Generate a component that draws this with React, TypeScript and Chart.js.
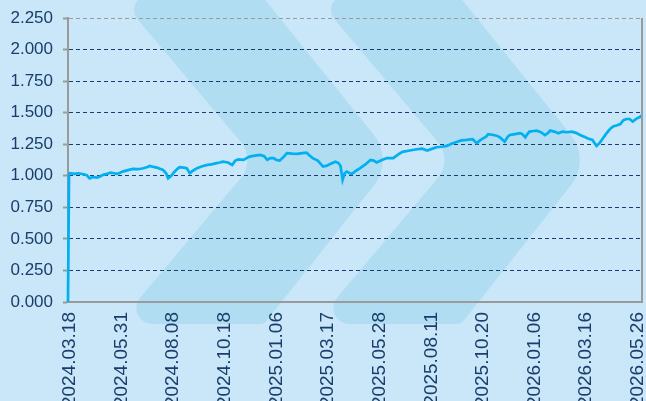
import { useEffect, useRef } from "react";
import { Chart, registerables } from "chart.js";

Chart.register(...registerables);

// X tick labels (dates) and the trading-day index where each one sits
const tickLabels = [
  "2024.03.18", "2024.05.31", "2024.08.08", "2024.10.18", "2025.01.06", "2025.03.17",
  "2025.05.28", "2025.08.11", "2025.10.20", "2026.01.06", "2026.03.16", "2026.05.26",
];
const tickDays = [0, 50, 100, 150, 200, 250, 300, 350, 400, 450, 500, 550];
const lastDay = 556;

// Y axis range
const yMin = 0;
const yMax = 2.25;
const yStep = 0.25;

// Series: trading-day index and net value
const dayIndex = [
  0, 1, 2, 6, 10, 15, 18, 21, 24, 28, 31, 34, 38, 41, 45, 47, 50, 53, 58, 63,
  68, 73, 77, 79, 83, 86, 89, 92, 95, 97, 100, 103, 106, 108, 112, 115, 118, 121, 125, 130,
  135, 139, 144, 147, 150, 155, 159, 162, 165, 170, 173, 176, 181, 186, 190, 193, 196, 199, 202, 205,
  209, 212, 217, 222, 227, 231, 234, 237, 242, 247, 251, 254, 259, 262, 264, 266, 268, 270, 273, 275,
  279, 283, 288, 293, 296, 299, 304, 309, 315, 320, 324, 331, 338, 343, 348, 353, 357, 362, 367, 372,
  377, 381, 386, 392, 396, 399, 402, 405, 407, 411, 416, 419, 423, 426, 428, 433, 438, 440, 443, 445,
  447, 451, 454, 458, 462, 465, 467, 471, 475, 479, 483, 488, 492, 496, 500, 503, 506, 508, 510, 512,
  515, 517, 521, 525, 528, 532, 535, 538, 541, 544, 547, 551, 554, 556,
];
const navValues = [
  0, 1.01, 1.02, 1.015, 1.02, 1.012, 1.005, 0.98, 0.99, 0.985, 0.995, 1.007, 1.015, 1.025, 1.02, 1.015, 1.022, 1.033, 1.045, 1.055,
  1.052, 1.06, 1.07, 1.078, 1.07, 1.065, 1.055, 1.047, 1.02, 0.98, 1.0, 1.03, 1.055, 1.068, 1.065, 1.06, 1.02, 1.04, 1.06, 1.075,
  1.086, 1.09, 1.1, 1.105, 1.112, 1.105, 1.086, 1.12, 1.13, 1.126, 1.14, 1.152, 1.16, 1.165, 1.155, 1.126, 1.14, 1.14, 1.125, 1.12,
  1.15, 1.18, 1.175, 1.173, 1.18, 1.184, 1.16, 1.14, 1.12, 1.073, 1.08, 1.094, 1.112, 1.1, 1.078, 0.968, 1.02, 1.033, 1.02, 1.015,
  1.04, 1.06, 1.09, 1.126, 1.12, 1.105, 1.125, 1.14, 1.14, 1.17, 1.19, 1.2, 1.21, 1.215, 1.2, 1.215, 1.226, 1.23, 1.237, 1.255,
  1.27, 1.28, 1.284, 1.29, 1.258, 1.28, 1.297, 1.31, 1.33, 1.325, 1.316, 1.3, 1.27, 1.31, 1.323, 1.33, 1.337, 1.33, 1.305, 1.33,
  1.35, 1.355, 1.358, 1.345, 1.323, 1.34, 1.358, 1.35, 1.337, 1.35, 1.345, 1.35, 1.34, 1.323, 1.31, 1.297, 1.29, 1.284, 1.26, 1.237,
  1.26, 1.284, 1.33, 1.37, 1.39, 1.4, 1.41, 1.44, 1.45, 1.45, 1.43, 1.455, 1.465, 1.48,
];

const BG = "#c9e7f8";
const CHEVRON = "#b1ddf3";
const NAVY = "#1a3d6b";
const GRAY = "#9a9a9a";
const LINE = "#00b0f0";
const FONT = "'Liberation Sans', Arial, sans-serif";

function roundPoly(ctx: CanvasRenderingContext2D, pts: number[][], radii: number[]) {
  const n = pts.length;
  const p0 = pts[0];
  const pl = pts[n - 1];
  ctx.beginPath();
  ctx.moveTo((p0[0] + pl[0]) / 2, (p0[1] + pl[1]) / 2);
  for (let i = 0; i < n; i++) {
    const c = pts[i];
    const nx = pts[(i + 1) % n];
    ctx.arcTo(c[0], c[1], nx[0], nx[1], radii[i]);
  }
  ctx.closePath();
  ctx.fill();
}

const decor = {
  id: "decor",
  beforeDraw(chart: any) {
    const { ctx, width, height } = chart;
    ctx.save();
    ctx.fillStyle = BG;
    ctx.fillRect(0, 0, width, height);
    ctx.fillStyle = CHEVRON;
    for (const dx of [0, 197]) {
      const pts = [
        [118 + dx, -4],
        [262 + dx, -4],
        [394 + dx, 160],
        [264 + dx, 324],
        [118 + dx, 324],
        [256 + dx, 160],
      ];
      roundPoly(ctx, pts, [14, 8, 40, 8, 16, 28]);
    }
    ctx.restore();
  },
  afterDraw(chart: any) {
    const { ctx, chartArea } = chart;
    ctx.save();
    ctx.strokeStyle = GRAY;
    ctx.lineWidth = 2;
    ctx.beginPath();
    ctx.moveTo(chartArea.right, chartArea.top);
    ctx.lineTo(chartArea.right, chartArea.bottom + 1);
    ctx.stroke();
    ctx.restore();
  },
};

export default function App() {
  const ref = useRef<HTMLCanvasElement | null>(null);

  useEffect(() => {
    document.body.style.margin = "0";
    document.body.style.overflow = "hidden";
    const canvas = ref.current;
    if (!canvas) return;
    const points = dayIndex.map((d, i) => ({ x: d, y: navValues[i] }));
    const chart = new Chart(canvas, {
      type: "line",
      data: {
        datasets: [
          {
            data: points,
            borderColor: LINE,
            borderWidth: 2.7,
            pointRadius: 0,
            tension: 0,
            fill: false,
            clip: false as any,
          },
        ],
      },
      plugins: [decor],
      options: {
        animation: false,
        responsive: false,
        events: [],
        layout: { padding: { top: 18, right: 4, left: 0, bottom: 0 } },
        plugins: { legend: { display: false }, tooltip: { enabled: false } },
        scales: {
          x: {
            type: "linear",
            min: 0,
            max: lastDay,
            afterBuildTicks: (scale: any) => {
              scale.ticks = tickDays.map((v) => ({ value: v }));
            },
            afterFit: (scale: any) => {
              scale.height = 99;
              scale.paddingLeft = 0;
              scale.paddingRight = 0;
            },
            grid: { display: false, drawTicks: false },
            border: { display: true, color: GRAY, width: 2 },
            ticks: {
              autoSkip: false,
              maxRotation: 90,
              minRotation: 90,
              padding: 10,
              labelOffset: 2,
              color: NAVY,
              font: { family: FONT, size: 19 },
              callback: (value: any) => {
                const i = tickDays.indexOf(Number(value));
                return i >= 0 ? tickLabels[i] : "";
              },
            },
          },
          y: {
            min: yMin,
            max: yMax,
            afterFit: (scale: any) => {
              scale.width = 68;
              scale.paddingTop = 0;
              scale.paddingBottom = 0;
            },
            grid: {
              color: (c: any) => (c.tick && c.tick.value === yMax ? GRAY : NAVY),
              lineWidth: 1,
              tickLength: 5,
              tickColor: GRAY,
              tickWidth: 2,
            },
            border: { display: true, color: GRAY, width: 2, dash: [4, 3] },
            ticks: {
              stepSize: yStep,
              padding: 10,
              color: NAVY,
              font: { family: FONT, size: 17 },
              callback: (value: any) => Number(value).toFixed(3),
            },
          },
        },
      },
    });
    return () => chart.destroy();
  }, []);

  return (
    <div style={{ width: 646, height: 401, overflow: "hidden" }}>
      <canvas ref={ref} width={646} height={401} style={{ display: "block" }} />
    </div>
  );
}
